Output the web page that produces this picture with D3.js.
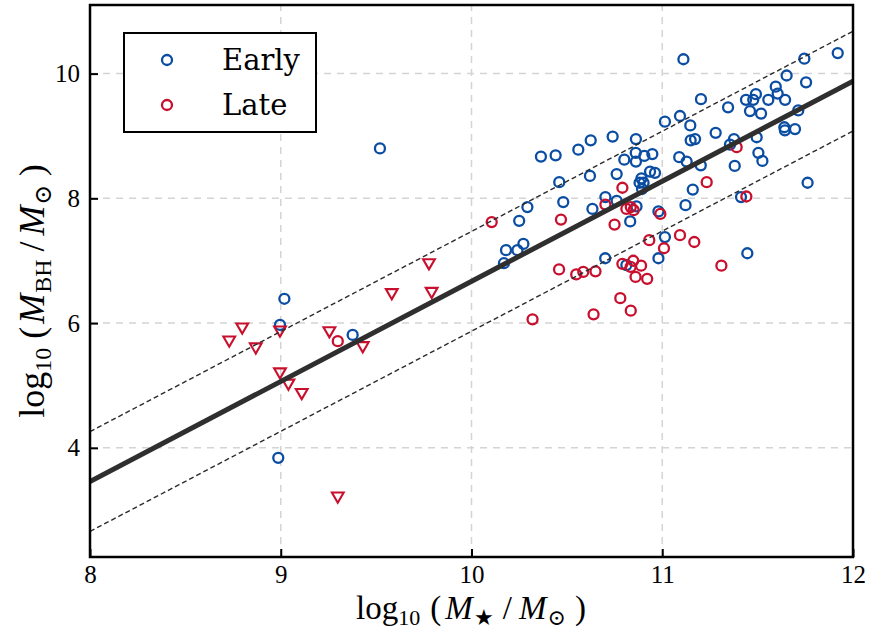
<!DOCTYPE html>
<html><head><meta charset="utf-8">
<script src="https://cdn.jsdelivr.net/npm/d3@7"></script>
<style>body{margin:0;background:#fff}</style></head>
<body>
<svg id="chart" width="870" height="632"></svg>
<script>
// ---- data (log10 stellar mass, log10 black-hole mass) ----
const earlyX = [11.92,11.745,11.111,11.652,11.754,11.595,11.605,11.491,11.439,11.477,11.556,11.644,11.203,11.345,11.46,11.518,11.713,11.093,11.014,11.147,11.28,11.64,11.643,11.696,11.149,11.172,11.376,11.495,11.355,11.38,11.504,11.525,11.762,11.089,11.128,11.202,11.16,11.413,11.122,10.364,10.441,10.56,10.625,10.74,10.862,10.861,10.801,10.862,10.906,10.948,10.46,10.621,10.761,10.936,10.962,10.891,10.881,10.902,10.894,10.702,10.761,10.481,10.293,10.634,10.865,10.98,10.832,10.25,10.272,10.181,10.241,10.17,10.701,10.98,11.014,11.446,10.812,9.52,9.019,8.996,9.377,8.987];
const earlyY = [10.33,10.24,10.23,9.97,9.86,9.79,9.68,9.67,9.58,9.58,9.58,9.58,9.59,9.46,9.40,9.36,9.41,9.32,9.23,9.17,9.05,9.14,9.09,9.11,8.93,8.95,8.95,8.98,8.86,8.52,8.73,8.60,8.25,8.66,8.59,8.53,8.14,8.02,7.89,8.67,8.69,8.78,8.93,8.99,8.95,8.73,8.62,8.59,8.68,8.71,8.26,8.36,8.39,8.43,8.41,8.32,8.25,8.25,8.15,8.02,7.96,7.94,7.86,7.83,7.87,7.79,7.63,7.64,7.27,7.17,7.17,6.96,7.04,7.04,7.38,7.12,6.93,8.80,6.39,5.97,5.81,3.84];
const lateX = [11.39,11.233,11.441,10.791,10.702,10.812,10.835,10.85,10.99,10.75,10.469,10.106,10.932,11.093,11.168,11.009,11.31,10.459,10.549,10.586,10.65,10.791,10.848,10.834,10.889,10.86,10.921,10.78,10.64,10.835,10.32,9.299];
const lateY = [8.82,8.26,8.03,8.17,7.90,7.83,7.86,7.81,7.75,7.58,7.66,7.62,7.33,7.41,7.30,7.20,6.92,6.86,6.78,6.82,6.83,6.95,7.00,6.90,6.92,6.74,6.71,6.40,6.14,6.20,6.06,5.71];
// upper limits (late type), drawn as downward triangles
const lateLimitX = [8.73,8.798,8.869,8.996,8.996,9.04,9.11,9.255,9.43,9.582,9.791,9.777,9.299];
const lateLimitY = [5.73,5.94,5.62,5.89,5.22,5.04,4.89,5.88,5.64,6.49,6.51,6.97,3.23];
const xTicks = [8,9,10,11,12];
const yTicks = [4,6,8,10];
const seriesNames = ["Early","Late"];
// fitted relation: logMbh = fitAt8 + fitSlope*(logM* - 8), scatter +/- fitScatter
const fitAt8 = 3.46, fitSlope = 1.605, fitScatter = 0.8;

const colEarly = "#0a4da2", colLate = "#c8102e";
const svg = d3.select("#chart");
const x = d3.scaleLinear().domain([8,12]).range([90,853]);
const y = d3.scaleLinear().domain([2.25,11.1]).range([557,5]);

// grid
const g = svg.append("g");
g.selectAll(".gx").data(xTicks.filter(t=>t>8&&t<12)).join("line")
  .attr("x1",d=>x(d)).attr("x2",d=>x(d)).attr("y1",y(2.25)).attr("y2",y(11.1))
  .attr("stroke","#d4d4d4").attr("stroke-width",1.5).attr("stroke-dasharray","7,6");
g.selectAll(".gy").data(yTicks).join("line")
  .attr("y1",d=>y(d)).attr("y2",d=>y(d)).attr("x1",x(8)).attr("x2",x(12))
  .attr("stroke","#d4d4d4").attr("stroke-width",1.5).attr("stroke-dasharray","7,6");

svg.append("defs").append("clipPath").attr("id","clip").append("rect")
  .attr("x",x(8)).attr("y",y(11.1)).attr("width",x(12)-x(8)).attr("height",y(2.25)-y(11.1));

const plot = svg.append("g").attr("clip-path","url(#clip)");
// points
plot.selectAll(".e").data(earlyX.map((v,i)=>[v,earlyY[i]])).join("circle")
  .attr("cx",d=>x(d[0])).attr("cy",d=>y(d[1])).attr("r",5)
  .attr("fill","none").attr("stroke",colEarly).attr("stroke-width",2.3);
plot.selectAll(".l").data(lateX.map((v,i)=>[v,lateY[i]])).join("circle")
  .attr("cx",d=>x(d[0])).attr("cy",d=>y(d[1])).attr("r",5)
  .attr("fill","none").attr("stroke",colLate).attr("stroke-width",2.3);
const tri = d3.symbol().type(d3.symbolTriangle).size(60);
plot.selectAll(".t").data(lateLimitX.map((v,i)=>[v,lateLimitY[i]])).join("path")
  .attr("d",tri).attr("transform",d=>`translate(${x(d[0])},${y(d[1])}) rotate(180)`)
  .attr("fill","none").attr("stroke",colLate).attr("stroke-width",2.1);

// fit lines
const fit = v => fitAt8 + fitSlope*(v-8);
const line = d3.line().x(d=>x(d[0])).y(d=>y(d[1]));
[-fitScatter, fitScatter].forEach(o=>{
  plot.append("path").datum([[8,fit(8)+o],[12,fit(12)+o]]).attr("d",line)
    .attr("stroke","#2b2b2b").attr("stroke-width",1.4).attr("stroke-dasharray","5,3").attr("fill","none");
});
plot.append("path").datum([[8,fit(8)],[12,fit(12)]]).attr("d",line)
  .attr("stroke","#2f2f2f").attr("stroke-width",5).attr("fill","none");

// axes
const fontTick = "Liberation Serif, DejaVu Serif, serif";
const ax = svg.append("g").attr("transform",`translate(0,${y(2.25)})`)
  .call(d3.axisBottom(x).tickValues(xTicks).tickSize(-8).tickPadding(8).tickFormat(d3.format("d")));
const ay = svg.append("g").attr("transform",`translate(${x(8)},0)`)
  .call(d3.axisLeft(y).tickValues(yTicks).tickSize(-8).tickPadding(10).tickFormat(d3.format("d")));
[ax,ay].forEach(a=>{
  a.select(".domain").remove();
  a.selectAll(".tick line").attr("stroke","#000").attr("stroke-width",2);
  a.selectAll(".tick text").attr("font-family",fontTick).attr("font-size",25).attr("fill","#000");
});
// frame
svg.append("rect").attr("x",x(8)).attr("y",y(11.1)).attr("width",x(12)-x(8)).attr("height",y(2.25)-y(11.1))
  .attr("fill","none").attr("stroke","#000").attr("stroke-width",2.5);

// legend
const lg = svg.append("g");
lg.append("rect").attr("x",124).attr("y",33).attr("width",192).attr("height",99)
  .attr("fill","#fff").attr("stroke","#000").attr("stroke-width",2);
[[colEarly,60],[colLate,105]].forEach((c,i)=>{
  lg.append("circle").attr("cx",167).attr("cy",c[1]).attr("r",5).attr("fill","none")
    .attr("stroke",c[0]).attr("stroke-width",2.3);
  lg.append("text").attr("x",222).attr("y",c[1]+10).attr("font-family","DejaVu Serif")
    .attr("font-size",29).attr("fill","#000").text(seriesNames[i]);
});

// axis labels
const mathFont = "Liberation Serif, DejaVu Serif, serif";
function mathLabel(t, parts, subSize, shift){
  parts.forEach(p=>{
    const s = t.append("tspan").text(p.t);
    if(p.sub){ s.attr("font-size",subSize).attr("dy",shift); }
    if(p.up){ s.attr("dy",-shift); }
    if(p.it){ s.attr("font-style","italic"); }
    if(p.dx){ s.attr("dx",p.dx); }
  });
}
const xl = svg.append("text").attr("x",471).attr("y",619).attr("text-anchor","middle")
  .attr("font-family",mathFont).attr("font-size",33).attr("fill","#000");
mathLabel(xl,[{t:"log"},{t:"10",sub:true},{t:"(",up:true,dx:10},{t:"M",it:true,dx:4},{t:"★",sub:true,dx:1},
  {t:"/",up:true,dx:9},{t:"M",it:true,dx:7},{t:"⊙",sub:true,dx:1},{t:")",up:true,dx:9}], 22, 6);
const yl = svg.append("text").attr("transform","translate(44,291) rotate(-90)").attr("text-anchor","middle")
  .attr("font-family",mathFont).attr("font-size",36).attr("fill","#000");
mathLabel(yl,[{t:"log"},{t:"10",sub:true},{t:"(",up:true,dx:9},{t:"M",it:true,dx:3},{t:"BH",sub:true,dx:1},
  {t:"/",up:true,dx:8},{t:"M",it:true,dx:6},{t:"⊙",sub:true,dx:1},{t:")",up:true,dx:8}], 24, 7);
</script>
</body></html>
